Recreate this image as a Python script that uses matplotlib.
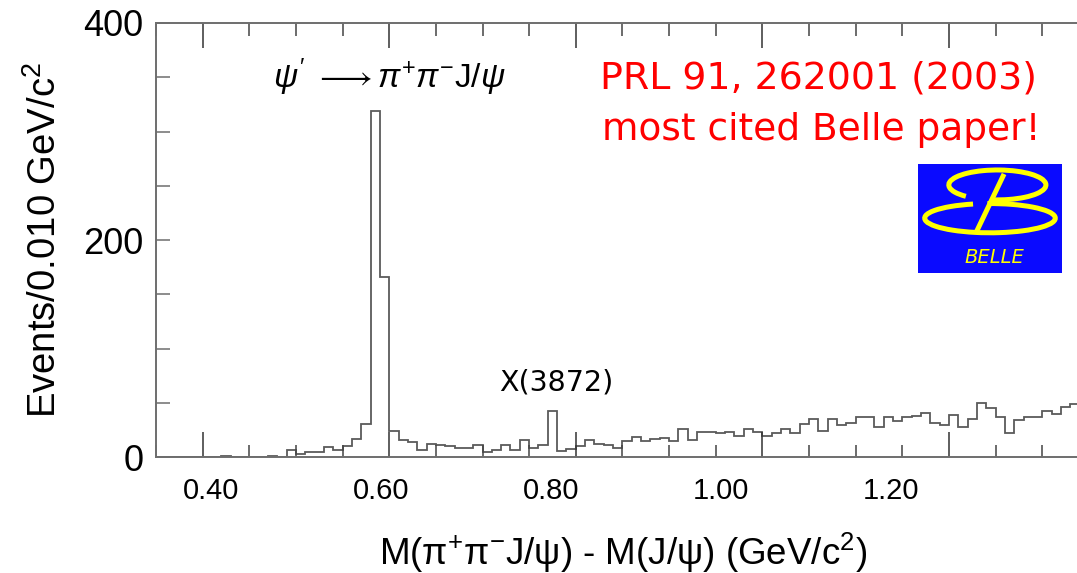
import matplotlib
matplotlib.use("Agg")
import matplotlib.pyplot as plt
import numpy as np
from matplotlib.patches import Arc
from matplotlib.ticker import MultipleLocator, FixedLocator, NullFormatter

plt.rcParams["mathtext.fontset"] = "custom"
plt.rcParams["mathtext.rm"] = "Liberation Sans"
plt.rcParams["mathtext.it"] = "Liberation Sans:italic"
plt.rcParams["mathtext.bf"] = "Liberation Sans:bold"

# ---------------- data ----------------
bin_start = 0.35
bin_width = 0.01
counts_low = [0, 0, 0, 0, 0, 0, 0, 1, 0, 0, 0, 0, 1, 0]          # 0.35 - 0.48
counts_psi = [7, 3, 5, 5, 9.5, 7, 10, 16.5, 31, 319, 166]         # 0.49 - 0.59
counts_mid = [24, 16, 14, 7, 12, 11, 10, 9, 9, 11,               # 0.60 - 0.69
              5, 7, 11, 7, 16, 9, 11, 43, 6, 8,                  # 0.70 - 0.79
              10, 16, 12, 11, 9, 15, 19, 15, 17, 18]             # 0.80 - 0.89
counts_high = [15, 26, 16, 23, 23, 22, 23, 20, 26, 23,           # 0.90 - 0.99
               20, 22, 26, 22, 31, 35, 24, 35, 30, 32,           # 1.00 - 1.09
               37, 37, 28, 37, 33, 37, 38, 41, 32, 30,           # 1.10 - 1.19
               39, 28, 35, 50, 45, 37, 22, 34, 37, 37,           # 1.20 - 1.29
               43, 40, 46, 49]                                   # 1.30 - 1.33
counts = np.array(counts_low + counts_psi + counts_mid + counts_high, dtype=float)
edges = np.round(bin_start + bin_width * np.arange(len(counts) + 1), 3)

x_tick_labels = [0.40, 0.60, 0.80, 1.00, 1.20]
y_tick_labels = [0, 200, 400]

# ---------------- figure ----------------
W, H = 1077, 573
fig = plt.figure(figsize=(W / 100, H / 100), dpi=100)
fig.patch.set_facecolor("white")

x_lo, x_hi = 0.35, 1.40
px_left, px_right = 156, 1135.5
px_top, px_bot = 23, 457.3
ax = fig.add_axes([px_left / W, 1 - px_bot / H,
                   (px_right - px_left) / W, (px_bot - px_top) / H])
ax.set_xlim(x_lo, x_hi)
ax.set_ylim(0, 400)

grey = "#6e6e6e"
ax.stairs(counts, edges, color="#5a5a5a", lw=1.3)

for s in ax.spines.values():
    s.set_color(grey)
    s.set_linewidth(1.4)

# x ticks: long every 0.2, short every 0.05, inside, top+bottom, no labels
ax.xaxis.set_major_locator(MultipleLocator(0.2))
ax.xaxis.set_minor_locator(MultipleLocator(0.05))
ax.xaxis.set_major_formatter(NullFormatter())
ax.tick_params(axis="x", which="major", direction="in", length=18, width=1.1,
               color="#333333", top=True, bottom=True)
ax.tick_params(axis="x", which="minor", direction="in", length=9, width=1.1,
               color="#444444", top=True, bottom=True)

# y ticks
ax.yaxis.set_major_locator(FixedLocator(y_tick_labels))
ax.yaxis.set_minor_locator(MultipleLocator(50))
ax.tick_params(axis="y", which="both", direction="in", length=10, width=1.1,
               color=grey, labelsize=26, pad=9)
for t in ax.get_yticklabels():
    t.set_fontfamily("Liberation Sans")

# the slide's x labels (placed as in the picture)
def fwd(x):
    return 0.4 + ((np.asarray(x) - 0.4) * 932.5 - 8) / 850.0

def inv(l):
    return 0.4 + ((np.asarray(l) - 0.4) * 850.0 + 8) / 932.5

sec = ax.secondary_xaxis("bottom", functions=(fwd, inv))
sec.set_xticks(x_tick_labels)
sec.set_xticklabels([f"{v:.2f}" for v in x_tick_labels])
sec.tick_params(length=0, labelsize=21, pad=14)
sec.spines["bottom"].set_visible(False)
for t in sec.get_xticklabels():
    t.set_fontfamily("Liberation Sans")

fig.text(623 / W, 1 - 553 / H, "M(π$^{+}$π$^{-}$J/ψ) - M(J/ψ) (GeV/c$^{2}$)",
         fontsize=26.5, fontfamily="Liberation Sans", ha="center", va="center")
fig.text(45 / W, 1 - 240 / H, "Events/0.010 GeV/c$^{2}$", rotation=90,
         fontsize=27.5, fontfamily="Liberation Sans", ha="center", va="center")

# annotations on the plot
ax.text(0.60, 350, r"$\psi^{\prime}\ \longrightarrow \pi^{+}\pi^{-}{\rm J}/\psi$",
        ha="center", va="center", fontsize=24, color="black")
ax.text(0.779, 69, "X(3872)", ha="center", va="center", fontsize=20.5,
        color="black", fontfamily="DejaVu Sans")

# red slide text
fig.text(600 / W, 1 - 78 / H, "PRL 91, 262001 (2003)", color="#ff0000",
         fontsize=27.3, fontfamily="DejaVu Sans", ha="left", va="center")
fig.text(602 / W, 1 - 130 / H, "most cited Belle paper!", color="#ff0000",
         fontsize=27, fontfamily="DejaVu Sans", ha="left", va="center")

# Belle logo
lax = fig.add_axes([918 / W, 1 - 273 / H, 144 / W, 109 / H])
lax.set_xlim(53, 483)
lax.set_ylim(42, 370)
lax.set_facecolor("#0a0aff")
lax.set_xticks([])
lax.set_yticks([])
for s in lax.spines.values():
    s.set_visible(False)
yel = "#ffff00"
lax.add_patch(Arc((290, 307), 290, 90, theta1=250, theta2=560, color=yel, lw=3.6))
lax.add_patch(Arc((268, 207), 390, 88, theta1=140, theta2=460, color=yel, lw=3.6))
lax.plot([310, 228], [340, 167], color=yel, lw=3.6, solid_capstyle="butt")
lax.text(282, 90, "BELLE", color=yel, fontsize=14, style="italic",
         fontfamily="DejaVu Sans", ha="center", va="center")

fig.savefig("out.png", dpi=100)
